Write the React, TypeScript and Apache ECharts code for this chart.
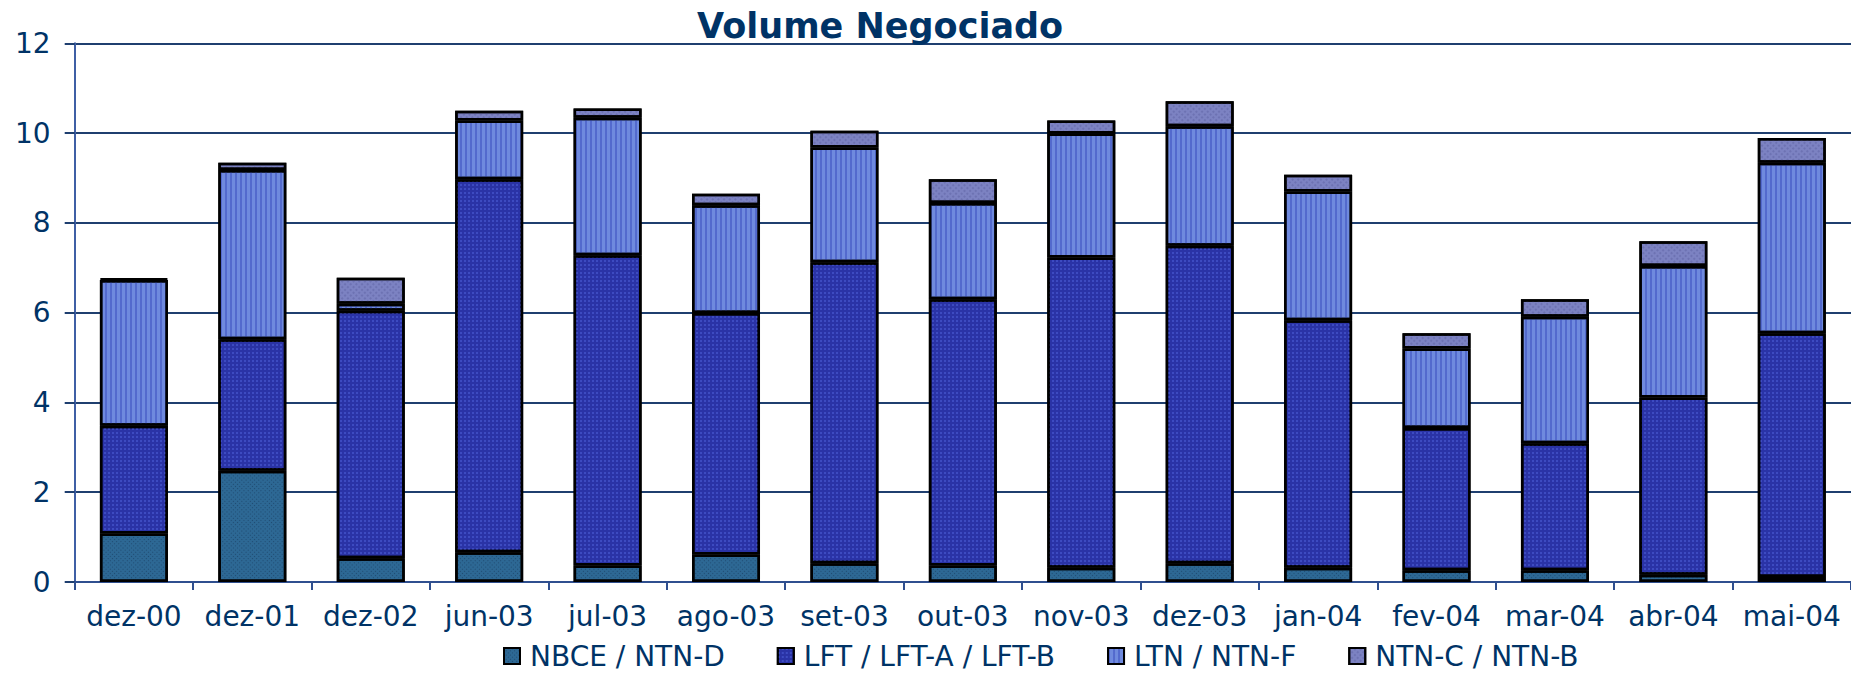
import React, { useEffect, useRef } from "react";
import * as echarts from "echarts";

const categories = ["dez-00", "dez-01", "dez-02", "jun-03", "jul-03", "ago-03", "set-03", "out-03", "nov-03", "dez-03", "jan-04", "fev-04", "mar-04", "abr-04", "mai-04"];
const seriesNames = ["NBCE / NTN-D", "LFT / LFT-A / LFT-B", "LTN / NTN-F", "NTN-C / NTN-B"];
const nbce = [1.08, 2.48, 0.53, 0.66, 0.37, 0.61, 0.42, 0.37, 0.32, 0.42, 0.32, 0.26, 0.26, 0.16, 0.11];
const lft = [2.40, 2.93, 5.51, 8.31, 6.91, 5.38, 6.70, 5.93, 6.91, 7.07, 5.51, 3.17, 2.83, 3.95, 5.43];
const ltn = [3.25, 3.77, 0.16, 1.31, 3.06, 2.40, 2.56, 2.14, 2.76, 2.66, 2.87, 1.77, 2.82, 2.93, 3.80];
const ntnc = [0.03, 0.16, 0.58, 0.22, 0.21, 0.26, 0.37, 0.53, 0.29, 0.56, 0.37, 0.34, 0.39, 0.55, 0.55];
const yTicks = [0, 2, 4, 6, 8, 10, 12];

const colors = ["#2d6894", "#2a33a6", "#6f8ade", "#7c82c2"];
const decals: any[] = [
  { symbol: "rect", symbolSize: 1, dashArrayX: [1, 2], dashArrayY: [1, 2], rotation: Math.PI / 4, color: "rgba(10,30,60,0.4)" },
  { symbol: "rect", symbolSize: 1, dashArrayX: [2, 2], dashArrayY: [2, 2], color: "rgba(80,100,220,0.5)" },
  { symbol: "rect", symbolSize: 1, dashArrayX: [2, 3], dashArrayY: [10, 0], color: "rgba(60,80,190,0.55)" },
  { symbol: "rect", symbolSize: 1, dashArrayX: [2, 2], dashArrayY: [2, 2], rotation: Math.PI / 4, color: "rgba(90,95,160,0.45)" },
];

export default function App() {
  const ref = useRef<HTMLDivElement>(null);
  useEffect(() => {
    document.body.style.margin = "0";
    const chart = echarts.init(ref.current!, null, { renderer: "svg" });
    const data = [nbce, lft, ltn, ntnc];
    chart.setOption({
      animation: false,
      backgroundColor: "#ffffff",
      textStyle: { fontFamily: "DejaVu Sans" },
      title: {
        text: "Volume Negociado",
        left: 697,
        top: 8,
        padding: 0,
        textStyle: { fontFamily: "DejaVu Sans", fontWeight: "bold", fontSize: 35, color: "#003366" },
      },
      legend: {
        data: seriesNames,
        left: 503,
        top: 642,
        padding: 0,
        itemWidth: 16,
        itemHeight: 16,
        itemGap: 52,
        icon: "rect",
        itemStyle: { borderColor: "#000000", borderWidth: 2 },
        textStyle: { fontSize: 28, color: "#003366", padding: [0, 0, 0, 5] },
      },
      grid: { left: 74.7, right: 0, top: 43.3, bottom: 91, containLabel: false },
      xAxis: {
        type: "category",
        data: categories,
        axisLine: { lineStyle: { color: "#2f4f8f", width: 2 } },
        axisTick: { show: true, length: 8, lineStyle: { color: "#2f4f8f", width: 2 } },
        axisLabel: { fontSize: 28, color: "#003366", margin: 20, interval: 0 },
        splitLine: { show: false },
      },
      yAxis: {
        type: "value",
        min: yTicks[0],
        max: yTicks[yTicks.length - 1],
        interval: 2,
        axisLine: { show: true, lineStyle: { color: "#3f5fa5", width: 2 } },
        axisTick: { show: true, length: 10, lineStyle: { color: "#1f3f6f", width: 2 } },
        axisLabel: { fontSize: 28, color: "#003366", margin: 24 },
        splitLine: { show: true, lineStyle: { color: "#1f3f6f", width: 2 } },
      },
      series: seriesNames.map((name, i) => ({
        name,
        type: "bar",
        stack: "total",
        barWidth: 68,
        data: data[i],
        itemStyle: { color: colors[i], borderColor: "#000000", borderWidth: 2.5, decal: decals[i] },
      })),
    });
    return () => chart.dispose();
  }, []);
  return <div ref={ref} style={{ width: 1851, height: 673 }} />;
}
